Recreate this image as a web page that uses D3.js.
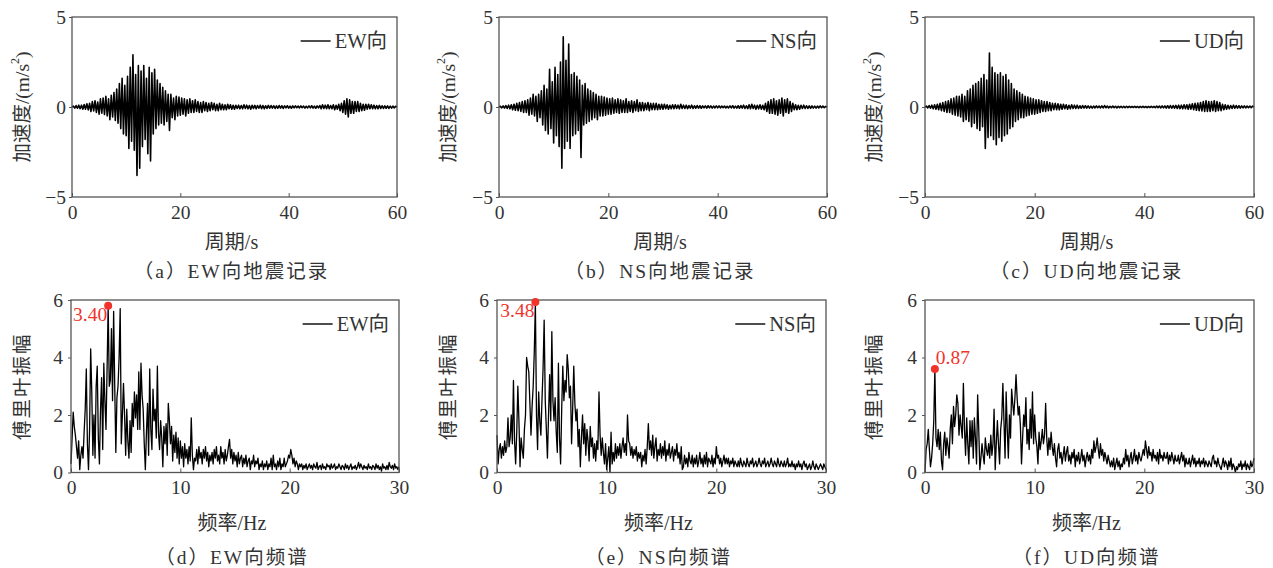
<!DOCTYPE html>
<html>
<head>
<meta charset="utf-8">
<script src="https://cdn.jsdelivr.net/npm/d3@7"></script>
<style>
  body { margin: 0; background: #fff; }
  svg text { font-family: "Liberation Serif", "Noto Sans CJK SC", serif; fill: #333; }
</style>
</head>
<body>
<div id="vizArea"></div>
<script>
// sample step of the records (s) and of the spectra (Hz)
const dt = 0.25, df = 0.1;

// acceleration records, m/s^2, one value every 0.25 s
const ewAcc = [
  0,0.05,-0.06,0.08,-0.07,0.1,-0.09,0.1,
  -0.12,0.14,-0.12,0.18,-0.16,0.2,-0.25,0.3,
  -0.22,0.35,-0.3,0.28,-0.4,0.45,-0.35,0.5,
  -0.42,0.6,-0.5,0.45,-0.7,0.65,-0.55,0.8,
  -0.75,1.0,-0.9,1.3,-1.2,1.6,-1.5,1.2,
  -1.6,1.7,-2.3,2.2,-1.9,2.9,-2.4,1.8,
  -3.8,2.3,-3.4,2.0,-2.2,2.3,-1.8,1.6,
  -2.6,2.2,-3.0,1.9,-1.5,2.1,-1.2,1.5,
  -1.0,1.3,-0.9,1.1,-1.0,0.9,-0.8,0.7,
  -1.3,0.7,-0.6,0.5,-0.7,0.6,-0.5,0.55,
  -0.45,0.5,-0.4,0.45,-0.5,0.4,-0.35,0.45,
  -0.3,0.35,-0.3,0.4,-0.25,0.3,-0.3,0.25,
  -0.3,0.3,-0.2,0.25,-0.25,0.2,-0.2,0.25,
  -0.15,0.2,-0.2,0.15,-0.2,0.2,-0.15,0.15,
  -0.15,0.12,-0.15,0.15,-0.1,0.12,-0.12,0.1,
  -0.12,0.1,-0.08,0.1,-0.1,0.08,-0.1,0.12,
  -0.08,0.1,-0.1,0.08,-0.12,0.1,-0.08,0.09,
  -0.1,0.08,-0.07,0.1,-0.09,0.08,-0.1,0.07,
  -0.08,0.09,-0.07,0.08,-0.06,0.07,-0.08,0.06,
  -0.07,0.08,-0.06,0.07,-0.08,0.06,-0.05,0.07,
  -0.06,0.05,-0.07,0.06,-0.05,0.06,-0.04,0.05,
  -0.05,0.06,-0.04,0.05,-0.06,0.04,-0.05,0.06,
  -0.05,0.07,-0.06,0.05,-0.07,0.06,-0.05,0.08,
  -0.1,0.12,-0.08,0.1,-0.09,0.12,-0.1,0.08,
  -0.1,0.12,-0.15,0.1,-0.12,0.15,-0.2,0.2,
  -0.3,0.35,-0.4,0.45,-0.55,0.4,-0.35,0.3,
  -0.35,0.3,-0.25,0.3,-0.25,0.2,-0.2,0.15,
  -0.18,0.15,-0.12,0.15,-0.1,0.12,-0.1,0.1,
  -0.1,0.08,-0.1,0.09,-0.08,0.07,-0.08,0.06,
  -0.07,0.06,-0.08,0.05,-0.06,0.05,-0.05,0.04,
  0
];
const nsAcc = [
  0,0.04,-0.05,0.06,-0.06,0.08,-0.08,0.1,
  -0.1,0.12,-0.15,0.15,-0.18,0.2,-0.2,0.25,
  -0.25,0.3,-0.3,0.35,-0.3,0.4,-0.45,0.5,
  -0.4,0.7,-0.5,0.6,-0.8,0.7,-0.6,0.9,
  -1.0,1.2,-1.3,1.0,-1.5,2.1,-1.2,1.4,
  -2.0,2.2,-1.6,1.8,-2.2,2.5,-3.4,3.9,
  -2.3,2.6,-1.9,3.5,-2.3,1.8,-1.6,1.9,
  -1.5,1.7,-1.3,1.5,-2.8,1.2,-1.0,1.3,
  -0.9,1.0,-0.8,0.9,-0.7,0.8,-0.6,0.7,
  -0.7,0.6,-0.5,0.6,-0.5,0.55,-0.45,0.5,
  -0.4,0.45,-0.4,0.5,-0.35,0.4,-0.3,0.45,
  -0.35,0.4,-0.3,0.35,-0.3,0.45,-0.3,0.3,
  -0.25,0.35,-0.3,0.3,-0.2,0.4,-0.25,0.25,
  -0.2,0.25,-0.2,0.2,-0.15,0.25,-0.2,0.2,
  -0.15,0.2,-0.15,0.2,-0.15,0.15,-0.12,0.15,
  -0.12,0.15,-0.1,0.12,-0.12,0.1,-0.1,0.12,
  -0.1,0.12,-0.08,0.1,-0.1,0.15,-0.08,0.1,
  -0.08,0.1,-0.09,0.08,-0.07,0.1,-0.08,0.07,
  -0.07,0.08,-0.06,0.07,-0.07,0.06,-0.05,0.06,
  -0.06,0.07,-0.05,0.06,-0.06,0.05,-0.05,0.06,
  -0.05,0.06,-0.05,0.05,-0.04,0.05,-0.05,0.04,
  -0.05,0.06,-0.05,0.07,-0.06,0.05,-0.06,0.07,
  -0.07,0.08,-0.06,0.1,-0.08,0.07,-0.09,0.12,
  -0.1,0.15,-0.08,0.1,-0.12,0.1,-0.1,0.12,
  -0.12,0.1,-0.15,0.2,-0.25,0.3,-0.35,0.4,
  -0.35,0.45,-0.4,0.35,-0.45,0.4,-0.35,0.5,
  -0.5,0.4,-0.3,0.45,-0.35,0.3,-0.25,0.2,
  -0.15,0.12,-0.15,0.1,-0.12,0.1,-0.08,0.1,
  -0.08,0.07,-0.08,0.06,-0.07,0.06,-0.06,0.05,
  -0.06,0.05,-0.05,0.06,-0.04,0.05,-0.04,0.03,
  0
];
const udAcc = [
  0,0.05,-0.05,0.08,-0.07,0.1,-0.1,0.12,
  -0.12,0.15,-0.15,0.2,-0.2,0.25,-0.25,0.3,
  -0.3,0.35,-0.3,0.45,-0.4,0.5,-0.45,0.6,
  -0.5,0.6,-0.55,0.7,-0.8,0.6,-0.7,0.9,
  -0.8,1.0,-1.1,1.2,-0.9,1.3,-1.2,1.4,
  -1.3,1.6,-1.1,1.8,-2.3,1.5,-1.7,3.0,
  -1.6,2.2,-1.8,1.9,-2.1,1.8,-1.7,1.9,
  -1.9,1.7,-1.6,1.8,-1.5,1.5,-1.2,1.3,
  -1.1,1.0,-0.8,0.9,-0.7,0.8,-0.6,0.7,
  -0.6,0.6,-0.5,0.55,-0.45,0.5,-0.4,0.45,
  -0.4,0.4,-0.35,0.4,-0.3,0.35,-0.25,0.3,
  -0.25,0.3,-0.2,0.25,-0.2,0.2,-0.15,0.2,
  -0.15,0.18,-0.15,0.15,-0.12,0.15,-0.1,0.12,
  -0.12,0.1,-0.1,0.12,-0.08,0.1,-0.08,0.1,
  -0.08,0.07,-0.07,0.08,-0.06,0.07,-0.06,0.06,
  -0.06,0.05,-0.06,0.05,-0.05,0.06,-0.04,0.05,
  -0.05,0.06,-0.05,0.08,-0.04,0.05,-0.05,0.04,
  -0.04,0.05,-0.04,0.04,-0.05,0.04,-0.03,0.04,
  -0.04,0.03,-0.04,0.04,-0.03,0.04,-0.03,0.03,
  -0.03,0.04,-0.03,0.03,-0.04,0.03,-0.03,0.04,
  -0.03,0.03,-0.04,0.03,-0.03,0.04,-0.03,0.03,
  -0.04,0.05,-0.04,0.05,-0.05,0.06,-0.05,0.06,
  -0.06,0.07,-0.06,0.08,-0.07,0.08,-0.07,0.09,
  -0.08,0.1,-0.09,0.1,-0.1,0.12,-0.1,0.12,
  -0.12,0.15,-0.12,0.18,-0.15,0.2,-0.18,0.22,
  -0.2,0.25,-0.22,0.3,-0.25,0.35,-0.25,0.3,
  -0.25,0.3,-0.2,0.35,-0.25,0.3,-0.2,0.25,
  -0.2,0.15,-0.15,0.12,-0.12,0.1,-0.1,0.08,
  -0.08,0.1,-0.07,0.08,-0.06,0.07,-0.06,0.06,
  -0.05,0.06,-0.05,0.05,-0.04,0.05,-0.04,0.05,
  0
];

// Fourier amplitude, one value every 0.1 Hz (0..30 Hz)
const ewAmp = [
  0.3,1.2,2.1,1.6,1.3,0.9,0.5,1.1,0.1,0.6,
  0.9,0.5,1.4,2.2,3.6,1.0,0.1,1.5,4.3,2.8,
  0.6,2.0,0.5,3.0,3.7,1.2,0.3,2.2,3.3,0.8,
  3.8,2.5,1.5,3.6,5.8,3.0,3.2,5.0,2.5,5.6,
  3.0,0.7,2.6,3.0,4.0,5.7,1.0,2.0,3.1,2.0,
  0.6,2.2,1.1,0.5,1.8,0.7,2.4,1.6,2.8,1.9,
  2.7,1.5,3.5,1.5,3.8,2.7,2.2,1.0,0.1,1.4,
  2.4,0.6,3.6,1.5,0.8,2.9,1.8,2.2,1.2,3.7,
  1.4,0.8,1.8,1.2,0.2,1.6,1.0,1.7,0.6,2.4,
  1.8,1.0,1.6,0.4,1.3,0.7,1.4,0.5,1.2,0.3,
  1.1,0.5,0.9,0.2,1.0,0.5,0.8,0.3,0.9,0.4,
  1.9,0.6,0.1,0.5,0.4,0.8,0.3,0.9,0.5,0.7,
  0.3,0.8,0.5,0.9,0.4,0.7,0.2,0.6,0.4,0.7,
  0.3,0.8,0.5,0.9,0.4,0.6,0.3,0.9,0.5,0.7,
  0.3,0.8,0.4,0.6,0.9,1.15,0.5,0.8,0.3,0.7,
  0.4,0.6,0.2,0.7,0.3,0.5,0.6,0.2,0.5,0.3,
  0.6,0.2,0.4,0.5,0.1,0.4,0.3,0.6,0.2,0.4,
  0.3,0.5,0.1,0.3,0.2,0.4,0.1,0.3,0.2,0.4,
  0.1,0.3,0.2,0.5,0.1,0.6,0.2,0.3,0.1,0.4,
  0.2,0.5,0.1,0.3,0.2,0.5,0.2,0.3,0.4,0.6,
  0.5,0.8,0.6,0.3,0.5,0.2,0.4,0.3,0.1,0.3,
  0.2,0.3,0.1,0.25,0.15,0.3,0.1,0.2,0.3,0.15,
  0.25,0.1,0.3,0.2,0.15,0.35,0.1,0.2,0.25,0.1,
  0.3,0.15,0.2,0.1,0.3,0.2,0.25,0.1,0.3,0.15,
  0.2,0.3,0.1,0.2,0.15,0.3,0.2,0.1,0.25,0.2,
  0.1,0.3,0.15,0.25,0.1,0.2,0.3,0.1,0.2,0.15,
  0.25,0.1,0.2,0.35,0.15,0.3,0.2,0.1,0.25,0.15,
  0.2,0.1,0.3,0.15,0.2,0.1,0.25,0.2,0.1,0.3,
  0.15,0.25,0.1,0.2,0.05,0.3,0.15,0.2,0.1,0.25,
  0.1,0.35,0.2,0.15,0.25,0.1,0.3,0.15,0.2,0.1,
  0.2
];
const nsAmp = [
  1.3,0.3,0.8,1.0,0.5,0.9,0.6,1.1,0.7,0.9,
  1.9,0.9,1.2,2.0,1.0,3.2,1.1,0.3,1.4,3.0,
  1.8,0.2,1.2,0.8,0.5,1.5,2.0,4.0,3.7,3.5,
  2.4,1.3,2.3,3.0,4.2,5.93,2.0,0.8,2.8,1.8,
  1.3,2.5,3.6,5.3,2.5,1.5,0.5,2.0,3.4,1.8,
  4.9,2.5,1.8,2.6,1.4,0.7,3.8,1.2,0.3,2.2,
  3.7,2.5,3.2,2.8,4.1,3.6,2.6,3.0,1.0,2.2,
  3.7,2.4,1.8,2.2,0.9,1.5,0.2,1.2,2.0,1.0,
  1.7,0.6,1.5,1.1,0.4,1.6,0.9,1.2,0.5,1.0,
  0.4,1.1,0.8,2.8,1.3,0.6,1.2,0.7,0.3,1.0,
  0.1,0.5,0.9,0.0,1.4,0.3,0.7,0.4,1.0,0.5,
  0.9,0.6,1.0,0.5,0.9,1.2,0.7,1.0,0.6,2.0,
  1.1,1.0,0.6,0.9,0.5,0.8,0.6,0.9,0.4,0.7,
  0.5,0.7,0.2,0.6,0.4,0.8,0.3,0.9,1.7,0.8,
  1.1,0.6,1.3,0.5,0.9,1.2,0.4,0.8,0.6,1.0,
  0.5,0.9,0.6,1.1,0.4,0.8,0.6,1.0,0.5,0.7,
  0.9,0.4,0.8,0.6,1.0,0.5,0.7,0.3,0.9,0.1,
  0.2,0.6,0.3,0.5,0.2,0.7,0.4,0.3,0.6,0.2,
  0.5,0.3,0.6,0.2,0.4,0.7,0.3,0.5,0.2,0.6,
  0.3,0.7,0.2,0.5,0.4,0.3,0.6,0.2,0.5,0.3,
  0.9,0.5,0.6,0.3,0.5,0.2,0.4,0.6,0.3,0.5,
  0.3,0.5,0.2,0.4,0.3,0.5,0.2,0.4,0.3,0.2,
  0.4,0.2,0.5,0.3,0.2,0.4,0.3,0.2,0.5,0.3,
  0.2,0.4,0.3,0.5,0.2,0.3,0.4,0.2,0.3,0.5,
  0.3,0.2,0.4,0.3,0.5,0.2,0.3,0.4,0.2,0.3,
  0.5,0.3,0.2,0.4,0.3,0.2,0.5,0.3,0.2,0.4,
  0.3,0.2,0.4,0.2,0.3,0.5,0.2,0.3,0.2,0.4,
  0.2,0.3,0.1,0.3,0.2,0.4,0.2,0.3,0.1,0.3,
  0.4,0.2,0.3,0.1,0.2,0.3,0.1,0.2,0.4,0.2,
  0.1,0.3,0.2,0.1,0.2,0.3,0.2,0.1,0.3,0.2,
  0.1
];
const udAmp = [
  0.0,0.8,1.0,1.5,0.8,0.2,0.5,1.0,1.8,3.6,
  1.2,0.9,1.5,0.8,1.4,0.4,0.1,1.0,1.4,0.6,
  1.2,0.9,0.5,1.5,2.0,1.0,2.3,1.6,2.0,2.7,
  2.4,1.3,2.0,1.6,1.2,3.1,1.5,0.6,1.9,1.0,
  0.3,1.8,0.9,1.8,0.5,1.9,1.2,0.3,2.7,1.5,
  0.1,0.5,1.0,0.6,0.3,1.2,0.8,0.6,1.0,0.5,
  1.3,0.6,1.0,2.2,0.1,1.0,1.8,1.0,0.3,1.5,
  1.9,3.1,1.8,0.5,2.8,1.5,0.5,2.0,1.2,2.9,
  2.4,2.0,2.6,3.4,2.6,2.0,2.3,1.6,0.3,1.2,
  2.0,1.6,2.6,1.0,1.5,0.8,2.2,1.2,2.8,1.0,
  2.0,1.2,0.9,0.3,1.4,0.8,1.1,1.5,1.0,1.3,
  2.4,1.2,0.6,1.2,0.8,1.4,0.9,0.6,1.0,0.5,
  0.2,0.8,1.0,0.5,0.7,0.3,0.6,0.9,0.4,0.7,
  0.9,0.4,0.6,0.3,0.7,0.5,0.8,0.2,0.6,0.4,
  0.7,0.3,0.5,0.8,0.4,0.6,0.2,0.5,0.7,0.4,
  0.6,0.3,0.8,0.5,1.1,0.7,0.9,1.2,0.8,0.5,
  1.0,0.6,0.8,0.4,0.7,0.5,0.3,0.6,0.4,0.2,
  0.4,0.2,0.5,0.1,0.3,0.5,0.2,0.4,0.1,0.3,
  0.2,0.5,0.3,0.8,0.4,0.6,0.2,0.5,0.7,0.3,
  0.5,0.8,0.4,0.6,0.3,0.7,0.5,0.4,0.6,0.8,
  0.6,1.1,0.8,0.5,0.9,0.6,0.7,0.4,0.8,0.5,
  0.6,0.4,0.7,0.3,0.8,0.5,0.6,0.4,0.7,0.5,
  0.5,0.7,0.3,0.6,0.4,0.7,0.5,0.3,0.6,0.4,
  0.4,0.6,0.3,0.5,0.7,0.4,0.6,0.2,0.5,0.3,
  0.3,0.5,0.2,0.4,0.6,0.3,0.5,0.2,0.4,0.3,
  0.5,0.2,0.4,0.3,0.5,0.2,0.4,0.3,0.2,0.4,
  0.3,0.2,0.5,0.6,0.3,0.4,0.2,0.5,0.3,0.2,
  0.1,0.3,0.5,0.2,0.4,0.3,0.1,0.4,0.2,0.5,
  0.1,0.3,0.2,0.0,0.2,0.1,0.3,0.2,0.4,0.1,
  0.3,0.2,0.4,0.1,0.3,0.2,0.1,0.4,0.2,0.3,
  0.5
];

const accTicksX = [0, 20, 40, 60], accTicksY = [-5, 0, 5];
const ampTicksX = [0, 10, 20, 30], ampTicksY = [0, 2, 4, 6];
const directions = ["EW", "NS", "UD"];
const peakLabels = ["3.40", "3.48", "0.87"];
const captionsTop = ["（a）EW向地震记录", "（b）NS向地震记录", "（c）UD向地震记录"];
const captionsBottom = ["（d）EW向频谱", "（e）NS向频谱", "（f）UD向频谱"];

const W = 1273, H = 568;
const svg = d3.select("#vizArea").append("svg").attr("width", W).attr("height", H);

// panel boxes (left, right, top, bottom)
const topBoxes = [[72, 397, 17, 197], [499, 827, 17, 197], [925, 1254, 17, 197]];
const botBoxes = [[71, 399, 300, 472.5], [497, 826, 300, 472.5], [925, 1254, 300, 472.5]];

function drawPanel(box, opt) {
  const [l, r, t, b] = box;
  const g = svg.append("g");
  const x = d3.scaleLinear().domain(opt.xDomain).range([l, r]);
  const y = d3.scaleLinear().domain(opt.yDomain).range([b, t]);

  // data line
  g.append("path")
    .datum(opt.values)
    .attr("fill", "none")
    .attr("stroke", "#000")
    .attr("stroke-width", opt.lineWidth)
    .attr("stroke-linejoin", "round")
    .attr("d", d3.line().x((d, i) => x(i * opt.step)).y(d => y(d)));

  // axes: ticks pointing inward on x, outward on y
  g.append("g").attr("transform", `translate(0,${b})`)
    .call(d3.axisBottom(x).tickValues(opt.xTicks).tickSize(-4).tickPadding(8).tickFormat(d3.format("d")))
    .call(a => a.select(".domain").remove())
    .call(a => a.selectAll("line").attr("stroke", "#555"))
    .call(a => a.selectAll("text").attr("font-size", 19.5).attr("fill", "#333").attr("font-family", null));
  g.append("g").attr("transform", `translate(${l},0)`)
    .call(d3.axisLeft(y).tickValues(opt.yTicks).tickSize(3).tickPadding(opt.yPad).tickFormat(d => d < 0 ? "−" + Math.abs(d) : d))
    .call(a => a.select(".domain").remove())
    .call(a => a.selectAll("line").attr("stroke", "#555"))
    .call(a => a.selectAll("text").attr("font-size", 19.5).attr("fill", "#333").attr("font-family", null));

  // frame
  g.append("rect").attr("x", l).attr("y", t).attr("width", r - l).attr("height", b - t)
    .attr("fill", "none").attr("stroke", "#555").attr("stroke-width", 1.3);

  // legend
  const lt = g.append("text").attr("x", r - 10).attr("y", t + 31)
    .attr("text-anchor", "end").attr("font-size", 20.5).text(opt.legend);
  const tw = lt.node().getComputedTextLength();
  g.append("line").attr("x1", r - 14 - tw - 30).attr("x2", r - 14 - tw)
    .attr("y1", t + 24).attr("y2", t + 24).attr("stroke", "#000").attr("stroke-width", 1.4);

  // axis titles and caption
  const cx = (l + r) / 2 - 3;
  g.append("text").attr("transform", `translate(${opt.yLabelX},${(t + b) / 2}) rotate(-90)`)
    .attr("text-anchor", "middle").attr("dominant-baseline", "central")
    .attr("font-size", 19.5).attr("letter-spacing", opt.yLabelSpacing).html(opt.yLabel);
  g.append("text").attr("x", cx).attr("y", opt.xLabelY).attr("text-anchor", "middle")
    .attr("dominant-baseline", "central").attr("font-size", 20).text(opt.xLabel);
  g.append("text").attr("x", cx).attr("y", opt.captionY).attr("text-anchor", "middle")
    .attr("dominant-baseline", "central").attr("font-size", 19.5).attr("letter-spacing", 2).text(opt.caption);

  // peak marker
  if (opt.peakLabel) {
    const im = d3.maxIndex(opt.values);
    const px = x(im * opt.step), py = y(opt.values[im]);
    g.append("circle").attr("cx", px).attr("cy", py).attr("r", 4).attr("fill", "#f0342c");
    const pl = g.append("text").attr("font-size", 19.5).style("fill", "#f0342c")
      .text(opt.peakLabel);
    if (opt.peakLeft) pl.attr("x", px - 1).attr("y", py + 15).attr("text-anchor", "end");
    else pl.attr("x", px + 1).attr("y", py - 5).attr("text-anchor", "start");
  }
}

const accs = [ewAcc, nsAcc, udAcc];
const amps = [ewAmp, nsAmp, udAmp];
const yLabelXs = [22, 448, 874];

directions.forEach((dir, k) => {
  drawPanel(topBoxes[k], {
    values: accs[k], step: dt, xDomain: [0, 60], yDomain: [-5, 5], lineWidth: 1.6,
    xTicks: accTicksX, yTicks: accTicksY, yPad: 3,
    legend: dir + "向",
    yLabel: '加速度/(m/s<tspan baseline-shift="super" font-size="12">2</tspan>)', yLabelX: yLabelXs[k], yLabelSpacing: 0,
    xLabel: "周期/s", xLabelY: 242, caption: captionsTop[k], captionY: 271
  });
  drawPanel(botBoxes[k], {
    values: amps[k], step: df, xDomain: [0, 30], yDomain: [0, 6], lineWidth: 1.3,
    xTicks: ampTicksX, yTicks: ampTicksY, yPad: 5,
    legend: dir + "向",
    yLabel: "傅里叶振幅", yLabelX: yLabelXs[k], yLabelSpacing: 2,
    xLabel: "频率/Hz", xLabelY: 523, caption: captionsBottom[k], captionY: 557,
    peakLabel: peakLabels[k], peakLeft: k < 2
  });
});
</script>
</body>
</html>
